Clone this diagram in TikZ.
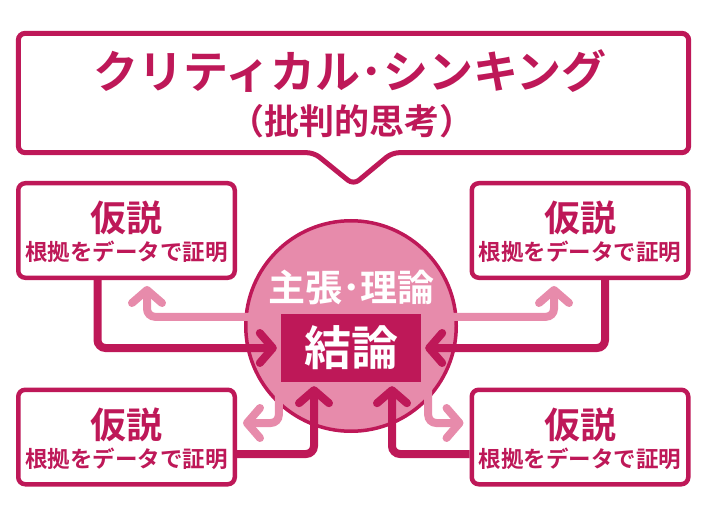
\documentclass[tikz,border=0pt]{standalone}
\usepackage{fontspec}
\setmainfont{Noto Sans CJK JP}[BoldFont={Noto Sans CJK JP Bold}]
\usetikzlibrary{arrows.meta,positioning}
\definecolor{crim}{RGB}{190,24,88}
\definecolor{rose}{RGB}{231,139,171}

\begin{document}
\begin{tikzpicture}[x=1pt,y=-1pt,
    hbox/.style={draw=crim,line width=4.5pt,rounded corners=7pt,fill=white,
      minimum width=216.5pt,minimum height=94.5pt,inner sep=0pt},
    hyp/.style={text=crim,inner sep=0pt,font=\bfseries\fontsize{36}{36}\selectfont},
    proof/.style={text=crim,inner sep=0pt,font=\bfseries\fontsize{22.5}{22.5}\selectfont},
    darkline/.style={draw=crim,line width=8pt,rounded corners=8pt,shorten >=4pt,
      -{Straight Barb[length=13pt,width=30pt,round]}},
    paleline/.style={draw=rose,line width=8pt,rounded corners=8pt,shorten >=6pt,
      -{Straight Barb[length=13pt,width=30pt,round]}}]
      \useasboundingbox (0,0) rectangle (708,518);

      % callout
      \node[minimum width=670pt,minimum height=119pt,inner sep=0pt] (ct) at (353.5,93) {};
      \draw[crim,line width=5pt,rounded corners=7pt,fill=white]
        ([xshift=-39.5pt]ct.south) -- (ct.south west) -- (ct.north west) -- (ct.north east)
        -- (ct.south east) -- ([xshift=38.5pt]ct.south) -- ([yshift=-32pt]ct.south) -- cycle;
      \node[text=crim,inner sep=0pt,font=\bfseries\fontsize{45}{45}\selectfont] (title) at (350,71) {クリティカル･シンキング};
      \node[text=crim,inner sep=0pt,font=\bfseries\fontsize{35}{35}\selectfont] (sub) at (351.5,121) {（批判的思考）};

      % hypotheses
      \foreach \n/\p in {hl1/{126.5,230.5},hr1/{580,230.5},hl3/{126.5,437},hr3/{580,437}} {
        \node[hbox] (\n) at (\p) {};
        \node[hyp] (\n-t) at ([yshift=12.5pt]\n.center) {仮説};
        \node[proof] (\n-s) at ([yshift=-21.5pt]\n.center) {根拠をデータで証明};
      }

      % claim
      \node[circle,draw=crim,line width=3.5pt,fill=rose,minimum size=210.5pt] (circ) at (351,326) {};
      \node[fill=crim,minimum width=140pt,minimum height=68pt,inner sep=0pt,text=white,
        font=\bfseries\fontsize{47}{47}\selectfont] (concl) at (351,348) {結論};
      \node[text=white,inner sep=0pt,font=\bfseries\fontsize{37}{37}\selectfont] (claim) at (351.5,287.5) {主張･理論};

      \draw[paleline] ([yshift=-3pt]concl.north west) -| ([xshift=20.5pt]hl1.south);
      \draw[paleline] ([yshift=-3pt]concl.north east) -| ([xshift=-26pt]hr1.south);
      \draw[paleline] ([xshift=-2pt]concl.south west) |- ([yshift=14pt]hl3.east);
      \draw[paleline] ([xshift=7pt]concl.south east) |- ([yshift=14pt]hr3.west);

      \draw[darkline] ([xshift=-29pt]hl1.south) |- (concl.west);
      \draw[darkline] ([xshift=25pt]hr1.south) |- (concl.east);
      \draw[darkline] ([yshift=-17pt]hl3.east) -| ([xshift=-37pt]concl.south);
      \draw[darkline] ([yshift=-17pt]hr3.west) -| ([xshift=41pt]concl.south);
\end{tikzpicture}
\end{document}
